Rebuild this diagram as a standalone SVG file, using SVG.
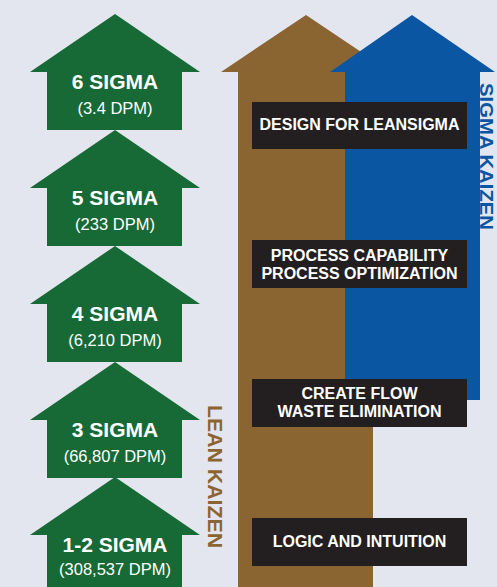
<svg xmlns="http://www.w3.org/2000/svg" xmlns:xlink="http://www.w3.org/1999/xlink" width="497" height="587" viewBox="0 0 497 587">
  <style>
    .bg { fill: #e4e6ef; }
    .green { fill: #176a35; }
    .brown { fill: #8b6531; }
    .blue { fill: #0b56a2; }
    .box { fill: #231f20; }
    .title { font-family: "Liberation Sans", Arial, sans-serif; font-weight: bold; font-size: 21px; fill: #ffffff; text-anchor: middle; }
    .sub { font-family: "Liberation Sans", Arial, sans-serif; font-size: 16.5px; fill: #ffffff; text-anchor: middle; }
    .boxtxt { font-family: "Liberation Sans", Arial, sans-serif; font-weight: bold; font-size: 16px; fill: #ffffff; text-anchor: middle; }
    .vert { font-family: "Liberation Sans", Arial, sans-serif; font-weight: bold; font-size: 20px; }
  </style>
  <defs>
    <path id="garrow" d="M115,0 L200,58 L182,58 L182,116 L47,116 L47,58 L30,58 Z"/>
  </defs>
  <rect class="bg" x="0" y="0" width="497" height="587"/>

  <g id="lean-kaizen-arrow">
    <path class="brown" d="M306,15 L391,72 L373,72 L373,587 L238,587 L238,72 L221,72 Z"/>
    <text class="vert" fill="#8b6531" transform="translate(208,405) rotate(90)" textLength="143" lengthAdjust="spacingAndGlyphs">LEAN KAIZEN</text>
  </g>

  <g id="sigma-kaizen-arrow">
    <path class="blue" d="M412,15 L495,72 L480,72 L480,400 L345,400 L345,72 L330,72 Z"/>
    <text class="vert" fill="#0b56a2" font-size="19" style="font-size:19px" transform="translate(480,83) rotate(90)" textLength="147" lengthAdjust="spacingAndGlyphs">SIGMA KAIZEN</text>
  </g>

  <g id="sigma-1-2">
    <use xlink:href="#garrow" href="#garrow" class="green" transform="translate(0,477)"/>
    <text class="title" x="115" y="552">1-2 SIGMA</text>
    <text class="sub" x="115" y="575">(308,537 DPM)</text>
  </g>
  <g id="sigma-3">
    <use xlink:href="#garrow" href="#garrow" class="green" transform="translate(0,362)"/>
    <text class="title" x="115" y="437">3 SIGMA</text>
    <text class="sub" x="115" y="462">(66,807 DPM)</text>
  </g>
  <g id="sigma-4">
    <use xlink:href="#garrow" href="#garrow" class="green" transform="translate(0,246)"/>
    <text class="title" x="115" y="321">4 SIGMA</text>
    <text class="sub" x="115" y="346">(6,210 DPM)</text>
  </g>
  <g id="sigma-5">
    <use xlink:href="#garrow" href="#garrow" class="green" transform="translate(0,130)"/>
    <text class="title" x="115" y="205">5 SIGMA</text>
    <text class="sub" x="115" y="230">(233 DPM)</text>
  </g>
  <g id="sigma-6">
    <use xlink:href="#garrow" href="#garrow" class="green" transform="translate(0,14)"/>
    <text class="title" x="115" y="89">6 SIGMA</text>
    <text class="sub" x="115" y="114">(3.4 DPM)</text>
  </g>

  <g id="design-for-leansigma">
    <rect class="box" x="252" y="102" width="215" height="47"/>
    <text class="boxtxt" x="359.5" y="130">DESIGN FOR LEANSIGMA</text>
  </g>
  <g id="process-capability">
    <rect class="box" x="252" y="240" width="215" height="48"/>
    <text class="boxtxt" x="359.5" y="261">PROCESS CAPABILITY</text>
    <text class="boxtxt" x="359.5" y="278.5">PROCESS OPTIMIZATION</text>
  </g>
  <g id="create-flow">
    <rect class="box" x="252" y="379" width="215" height="48"/>
    <text class="boxtxt" x="359.5" y="398.5">CREATE FLOW</text>
    <text class="boxtxt" x="359.5" y="416.5">WASTE ELIMINATION</text>
  </g>
  <g id="logic-and-intuition">
    <rect class="box" x="252" y="518" width="215" height="48"/>
    <text class="boxtxt" x="359.5" y="547">LOGIC AND INTUITION</text>
  </g>

  <g id="connectors"/>
</svg>
